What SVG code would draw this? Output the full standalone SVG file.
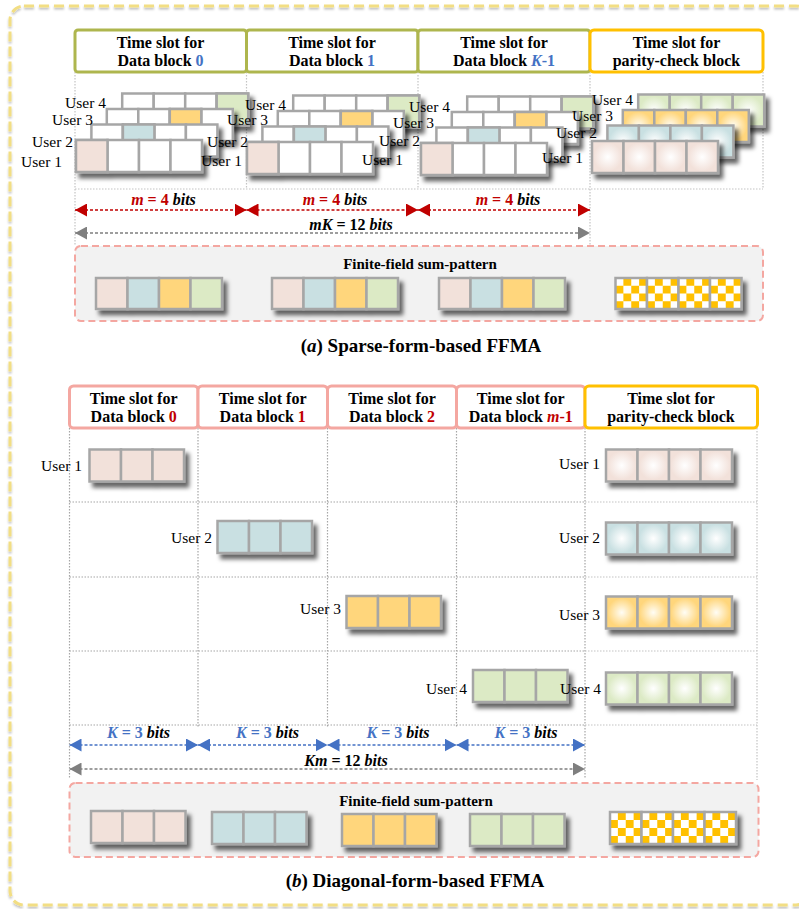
<svg xmlns="http://www.w3.org/2000/svg" width="799" height="909" viewBox="0 0 799 909" font-family="'Liberation Serif', 'Times New Roman', serif">
<defs>
<style>
text{font-family:"Liberation Serif","Times New Roman",serif;fill:#000}
.hd{font-size:16px;font-weight:bold;text-anchor:middle}
.lb{font-size:15.5px;text-anchor:end}
.ar{font-size:16px;font-weight:bold;text-anchor:middle;font-style:italic}
.sum{font-size:15px;font-weight:bold;text-anchor:middle}
.cap{font-size:19px;font-weight:bold;text-anchor:middle}
.bl{fill:#4472C4}
.rd{fill:#C00000}
.it{font-style:italic}
.up{font-style:normal}
.c{stroke:#A6A6A6;stroke-width:2.5}
.w{fill:#fff}
.pk{fill:#F2E1DA}
.bu{fill:#C9E0E2}
.ye{fill:#FFD67C}
.gn{fill:#DCEAC5}
.ck{fill:url(#chk)}
.rpk{fill:url(#gpk)}
.rbu{fill:url(#gbu)}
.rye{fill:url(#gye)}
.rgn{fill:url(#ggn)}
.hA{fill:#fff;stroke:#AEB64E;stroke-width:3}
.hB{fill:#fff;stroke:#F4A7A1;stroke-width:3}
.hP{fill:#fff;stroke:#FFC000;stroke-width:3}
.gd{stroke:#A6A6A6;stroke-width:1.2;stroke-dasharray:1.5 1.5;fill:none}
.gl{stroke:#C4C4C4;stroke-width:1.2;stroke-dasharray:1.5 1.5;fill:none}
.box{fill:#F2F2F2;stroke:#F4A7A1;stroke-width:2;stroke-dasharray:7 4}
.ra{stroke:#C00000;stroke-width:1.3;stroke-dasharray:3 2;marker-start:url(#mr);marker-end:url(#mr)}
.ba{stroke:#4472C4;stroke-width:1.3;stroke-dasharray:3 2;marker-start:url(#mb);marker-end:url(#mb)}
.ga{stroke:#7F7F7F;stroke-width:1.3;stroke-dasharray:3 2;marker-start:url(#mg);marker-end:url(#mg)}
.frame{fill:none;stroke:#F2DE84;stroke-width:3;stroke-dasharray:10 5}
</style>
<filter id="sh" x="-20%" y="-30%" width="150%" height="180%">
<feDropShadow dx="4" dy="5" stdDeviation="2.2" flood-color="#000" flood-opacity="0.6"/>
</filter>
<filter id="fsh" x="-5%" y="-5%" width="110%" height="110%">
<feDropShadow dx="0" dy="2" stdDeviation="1.2" flood-color="#000" flood-opacity="0.25"/>
</filter>
<marker id="mr" viewBox="0 0 12 13" refX="12" refY="6.5" markerWidth="12" markerHeight="13" markerUnits="userSpaceOnUse" orient="auto-start-reverse"><path d="M0,0 L12,6.5 L0,13 z" fill="#C00000"/></marker>
<marker id="mb" viewBox="0 0 12 13" refX="12" refY="6.5" markerWidth="12" markerHeight="13" markerUnits="userSpaceOnUse" orient="auto-start-reverse"><path d="M0,0 L12,6.5 L0,13 z" fill="#4472C4"/></marker>
<marker id="mg" viewBox="0 0 12 13" refX="12" refY="6.5" markerWidth="12" markerHeight="13" markerUnits="userSpaceOnUse" orient="auto-start-reverse"><path d="M0,0 L12,6.5 L0,13 z" fill="#7F7F7F"/></marker>
<radialGradient id="gpk"><stop offset="0" stop-color="#FFFFFF"/><stop offset="0.9" stop-color="#F2E1DA"/></radialGradient>
<radialGradient id="gbu"><stop offset="0" stop-color="#FFFFFF"/><stop offset="0.9" stop-color="#C9E0E2"/></radialGradient>
<radialGradient id="gye"><stop offset="0" stop-color="#FFFDF5"/><stop offset="0.9" stop-color="#FFD67C"/></radialGradient>
<radialGradient id="ggn"><stop offset="0" stop-color="#FFFFFF"/><stop offset="0.9" stop-color="#DCEAC5"/></radialGradient>
<pattern id="chk" patternUnits="objectBoundingBox" width="0.5" height="0.5" patternContentUnits="objectBoundingBox"><rect width="0.5" height="0.5" fill="#fff"/><rect x="0.25" y="0" width="0.25" height="0.25" fill="#FFC000"/><rect x="0" y="0.25" width="0.25" height="0.25" fill="#FFC000"/></pattern>
<g id="r4"><rect class="c w" x="0" y="0" width="31.5" height="32"/><rect class="c w" x="31.5" y="0" width="31.5" height="32"/><rect class="c w" x="63" y="0" width="31.5" height="32"/><rect class="c w" x="94.5" y="0" width="31.5" height="32"/></g>
</defs>

<rect class="frame" x="10" y="6" width="800" height="899" rx="14" filter="url(#fsh)"/>

<!-- ===== Part (a) ===== -->
<g id="grid-a">
<path class="gl" d="M75,72V189 M246.5,72V189 M418,72V189 M590,72V189 M763,72V189 M75,189H763 M75,189V246 M590,189V246"/>
</g>

<g id="a-header-0"><rect class="hA" x="75" y="30" width="171.5" height="42" rx="3"/><text class="hd" x="160.5" y="48">Time slot for</text><text class="hd" x="160.5" y="66">Data block <tspan class="bl">0</tspan></text></g>
<g id="a-header-1"><rect class="hA" x="246.5" y="30" width="171.5" height="42" rx="3"/><text class="hd" x="332" y="48">Time slot for</text><text class="hd" x="332" y="66">Data block <tspan class="bl">1</tspan></text></g>
<g id="a-header-K1"><rect class="hA" x="418" y="30" width="172" height="42" rx="3"/><text class="hd" x="504" y="48">Time slot for</text><text class="hd" x="504" y="66">Data block <tspan class="bl it">K</tspan><tspan class="bl">-1</tspan></text></g>
<g id="a-header-parity"><rect class="hP" x="590" y="30" width="173" height="42" rx="4"/><text class="hd" x="676.5" y="48">Time slot for</text><text class="hd" x="676.5" y="66">parity-check block</text></g>

<g id="a-col0">
<g filter="url(#sh)" transform="translate(122.2,93.5)"><use href="#r4"/><rect class="c gn" x="94.5" y="0" width="31.5" height="32"/></g>
<g filter="url(#sh)" transform="translate(106.8,109)"><use href="#r4"/><rect class="c ye" x="63" y="0" width="31.5" height="32"/></g>
<g filter="url(#sh)" transform="translate(91.4,124.5)"><use href="#r4"/><rect class="c bu" x="31.5" y="0" width="31.5" height="32"/></g>
<g filter="url(#sh)" transform="translate(76,140)"><use href="#r4"/><rect class="c pk" x="0" y="0" width="31.5" height="32"/></g>
</g>
<g id="a-col1">
<g filter="url(#sh)" transform="translate(293.2,95.5)"><use href="#r4"/><rect class="c gn" x="94.5" y="0" width="31.5" height="32"/></g>
<g filter="url(#sh)" transform="translate(277.8,111)"><use href="#r4"/><rect class="c ye" x="63" y="0" width="31.5" height="32"/></g>
<g filter="url(#sh)" transform="translate(262.4,126.5)"><use href="#r4"/><rect class="c bu" x="31.5" y="0" width="31.5" height="32"/></g>
<g filter="url(#sh)" transform="translate(247,142)"><use href="#r4"/><rect class="c pk" x="0" y="0" width="31.5" height="32"/></g>
</g>
<g id="a-colK1">
<g filter="url(#sh)" transform="translate(467.2,96.5)"><use href="#r4"/><rect class="c gn" x="94.5" y="0" width="31.5" height="32"/></g>
<g filter="url(#sh)" transform="translate(451.8,112)"><use href="#r4"/><rect class="c ye" x="63" y="0" width="31.5" height="32"/></g>
<g filter="url(#sh)" transform="translate(436.4,127.5)"><use href="#r4"/><rect class="c bu" x="31.5" y="0" width="31.5" height="32"/></g>
<g filter="url(#sh)" transform="translate(421,143)"><use href="#r4"/><rect class="c pk" x="0" y="0" width="31.5" height="32"/></g>
</g>
<g id="a-colParity">
<g filter="url(#sh)" transform="translate(638.2,94.5)"><rect class="c rgn" x="0" y="0" width="31.5" height="32"/><rect class="c rgn" x="31.5" y="0" width="31.5" height="32"/><rect class="c rgn" x="63" y="0" width="31.5" height="32"/><rect class="c rgn" x="94.5" y="0" width="31.5" height="32"/></g>
<g filter="url(#sh)" transform="translate(622.8,110)"><rect class="c rye" x="0" y="0" width="31.5" height="32"/><rect class="c rye" x="31.5" y="0" width="31.5" height="32"/><rect class="c rye" x="63" y="0" width="31.5" height="32"/><rect class="c rye" x="94.5" y="0" width="31.5" height="32"/></g>
<g filter="url(#sh)" transform="translate(607.4,125.5)"><rect class="c rbu" x="0" y="0" width="31.5" height="32"/><rect class="c rbu" x="31.5" y="0" width="31.5" height="32"/><rect class="c rbu" x="63" y="0" width="31.5" height="32"/><rect class="c rbu" x="94.5" y="0" width="31.5" height="32"/></g>
<g filter="url(#sh)" transform="translate(592,141)"><rect class="c rpk" x="0" y="0" width="31.5" height="32"/><rect class="c rpk" x="31.5" y="0" width="31.5" height="32"/><rect class="c rpk" x="63" y="0" width="31.5" height="32"/><rect class="c rpk" x="94.5" y="0" width="31.5" height="32"/></g>
</g>

<g id="a-labels">
<text class="lb" x="106" y="108">User 4</text><text class="lb" x="93" y="125">User 3</text><text class="lb" x="73" y="147">User 2</text><text class="lb" x="62" y="167">User 1</text>
<text class="lb" x="286" y="110">User 4</text><text class="lb" x="268" y="125">User 3</text><text class="lb" x="248" y="147">User 2</text><text class="lb" x="242" y="166">User 1</text>
<text class="lb" x="450" y="112">User 4</text><text class="lb" x="434" y="128">User 3</text><text class="lb" x="420" y="146">User 2</text><text class="lb" x="403" y="165">User 1</text>
<text class="lb" x="633" y="105">User 4</text><text class="lb" x="613" y="121">User 3</text><text class="lb" x="597" y="138">User 2</text><text class="lb" x="583" y="163">User 1</text>
</g>

<g id="a-connectors">
<line class="ra" x1="75" y1="210" x2="246.5" y2="210"/>
<line class="ra" x1="246.5" y1="210" x2="418" y2="210"/>
<line class="ra" x1="418" y1="210" x2="590" y2="210"/>
<line class="ga" x1="75" y1="233" x2="590" y2="233"/>
</g>
<g id="a-dim-labels">
<text class="ar" x="163.5" y="205"><tspan class="rd">m</tspan><tspan class="rd up"> = 4</tspan> bits</text>
<text class="ar" x="335" y="205"><tspan class="rd">m</tspan><tspan class="rd up"> = 4</tspan> bits</text>
<text class="ar" x="508" y="205"><tspan class="rd">m</tspan><tspan class="rd up"> = 4</tspan> bits</text>
<text class="ar" x="351" y="230">mK<tspan class="up"> = 12 </tspan>bits</text>
</g>

<g id="a-sum-pattern">
<rect class="box" x="75" y="246" width="688" height="75" rx="6"/>
<text class="sum" x="420" y="269">Finite-field sum-pattern</text>
<g filter="url(#sh)" transform="translate(96,278)"><rect class="c pk" x="0" y="0" width="31.5" height="31"/><rect class="c bu" x="31.5" y="0" width="31.5" height="31"/><rect class="c ye" x="63" y="0" width="31.5" height="31"/><rect class="c gn" x="94.5" y="0" width="31.5" height="31"/></g>
<g filter="url(#sh)" transform="translate(272,278)"><rect class="c pk" x="0" y="0" width="31.5" height="31"/><rect class="c bu" x="31.5" y="0" width="31.5" height="31"/><rect class="c ye" x="63" y="0" width="31.5" height="31"/><rect class="c gn" x="94.5" y="0" width="31.5" height="31"/></g>
<g filter="url(#sh)" transform="translate(439,278)"><rect class="c pk" x="0" y="0" width="31.5" height="31"/><rect class="c bu" x="31.5" y="0" width="31.5" height="31"/><rect class="c ye" x="63" y="0" width="31.5" height="31"/><rect class="c gn" x="94.5" y="0" width="31.5" height="31"/></g>
<g filter="url(#sh)" transform="translate(615.5,278)"><rect class="c ck" x="0" y="0" width="31.5" height="31"/><rect class="c ck" x="31.5" y="0" width="31.5" height="31"/><rect class="c ck" x="63" y="0" width="31.5" height="31"/><rect class="c ck" x="94.5" y="0" width="31.5" height="31"/></g>
</g>
<text class="cap" x="421" y="352">(<tspan class="it">a</tspan>) Sparse-form-based FFMA</text>

<!-- ===== Part (b) ===== -->
<g id="grid-b">
<path class="gd" d="M69.5,428V778 M198,428V727 M327.5,428V727 M456.5,428V727 M585,428V778 M69.5,502H585 M69.5,577H585 M69.5,651H585 M69.5,725H585"/>
<path class="gl" d="M757,428V780 M585,502H757 M585,577H757 M585,651H757 M585,725H757"/>
</g>

<g id="b-header-0"><rect class="hB" x="69.5" y="386" width="128.5" height="42" rx="4"/><text class="hd" x="133.7" y="404">Time slot for</text><text class="hd" x="133.7" y="422">Data block <tspan class="rd">0</tspan></text></g>
<g id="b-header-1"><rect class="hB" x="198" y="386" width="129.5" height="42" rx="4"/><text class="hd" x="262.7" y="404">Time slot for</text><text class="hd" x="262.7" y="422">Data block <tspan class="rd">1</tspan></text></g>
<g id="b-header-2"><rect class="hB" x="327.5" y="386" width="129" height="42" rx="4"/><text class="hd" x="392" y="404">Time slot for</text><text class="hd" x="392" y="422">Data block <tspan class="rd">2</tspan></text></g>
<g id="b-header-m1"><rect class="hB" x="456.5" y="386" width="128.5" height="42" rx="4"/><text class="hd" x="520.7" y="404">Time slot for</text><text class="hd" x="520.7" y="422">Data block <tspan class="rd it">m</tspan><tspan class="rd">-1</tspan></text></g>
<g id="b-header-parity"><rect class="hP" x="585" y="386" width="172.5" height="42" rx="4"/><text class="hd" x="671" y="404">Time slot for</text><text class="hd" x="671" y="422">parity-check block</text></g>

<g id="b-user1"><g filter="url(#sh)" transform="translate(89.5,449.5)"><rect class="c pk" x="0" y="0" width="31.5" height="32"/><rect class="c pk" x="31.5" y="0" width="31.5" height="32"/><rect class="c pk" x="63" y="0" width="31.5" height="32"/></g></g>
<g id="b-user2"><g filter="url(#sh)" transform="translate(217.5,521)"><rect class="c bu" x="0" y="0" width="31.5" height="32"/><rect class="c bu" x="31.5" y="0" width="31.5" height="32"/><rect class="c bu" x="63" y="0" width="31.5" height="32"/></g></g>
<g id="b-user3"><g filter="url(#sh)" transform="translate(346.5,596)"><rect class="c ye" x="0" y="0" width="31.5" height="32"/><rect class="c ye" x="31.5" y="0" width="31.5" height="32"/><rect class="c ye" x="63" y="0" width="31.5" height="32"/></g></g>
<g id="b-user4"><g filter="url(#sh)" transform="translate(473,670)"><rect class="c gn" x="0" y="0" width="31.5" height="32"/><rect class="c gn" x="31.5" y="0" width="31.5" height="32"/><rect class="c gn" x="63" y="0" width="31.5" height="32"/></g></g>

<g id="b-parity">
<g filter="url(#sh)" transform="translate(606,449.5)"><rect class="c rpk" x="0" y="0" width="31.5" height="32"/><rect class="c rpk" x="31.5" y="0" width="31.5" height="32"/><rect class="c rpk" x="63" y="0" width="31.5" height="32"/><rect class="c rpk" x="94.5" y="0" width="31.5" height="32"/></g>
<g filter="url(#sh)" transform="translate(606,522.5)"><rect class="c rbu" x="0" y="0" width="31.5" height="32"/><rect class="c rbu" x="31.5" y="0" width="31.5" height="32"/><rect class="c rbu" x="63" y="0" width="31.5" height="32"/><rect class="c rbu" x="94.5" y="0" width="31.5" height="32"/></g>
<g filter="url(#sh)" transform="translate(606,596.5)"><rect class="c rye" x="0" y="0" width="31.5" height="32"/><rect class="c rye" x="31.5" y="0" width="31.5" height="32"/><rect class="c rye" x="63" y="0" width="31.5" height="32"/><rect class="c rye" x="94.5" y="0" width="31.5" height="32"/></g>
<g filter="url(#sh)" transform="translate(606,672.5)"><rect class="c rgn" x="0" y="0" width="31.5" height="32"/><rect class="c rgn" x="31.5" y="0" width="31.5" height="32"/><rect class="c rgn" x="63" y="0" width="31.5" height="32"/><rect class="c rgn" x="94.5" y="0" width="31.5" height="32"/></g>
</g>

<g id="b-labels">
<text class="lb" x="82" y="471">User 1</text>
<text class="lb" x="212" y="543">User 2</text>
<text class="lb" x="341" y="614">User 3</text>
<text class="lb" x="467" y="694">User 4</text>
<text class="lb" x="600" y="469">User 1</text>
<text class="lb" x="600" y="543">User 2</text>
<text class="lb" x="600" y="620">User 3</text>
<text class="lb" x="601" y="694">User 4</text>
</g>

<g id="b-connectors">
<line class="ba" x1="69.5" y1="745" x2="198" y2="745"/>
<line class="ba" x1="198" y1="745" x2="327.5" y2="745"/>
<line class="ba" x1="327.5" y1="745" x2="456.5" y2="745"/>
<line class="ba" x1="456.5" y1="745" x2="585" y2="745"/>
<line class="ga" x1="69.5" y1="769" x2="585" y2="769"/>
</g>
<g id="b-dim-labels">
<text class="ar" x="138.5" y="738"><tspan class="bl">K</tspan><tspan class="bl up"> = 3</tspan> bits</text>
<text class="ar" x="267.5" y="738"><tspan class="bl">K</tspan><tspan class="bl up"> = 3</tspan> bits</text>
<text class="ar" x="398" y="738"><tspan class="bl">K</tspan><tspan class="bl up"> = 3</tspan> bits</text>
<text class="ar" x="526" y="738"><tspan class="bl">K</tspan><tspan class="bl up"> = 3</tspan> bits</text>
<text class="ar" x="346" y="766">Km<tspan class="up"> = 12 </tspan>bits</text>
</g>

<g id="b-sum-pattern">
<rect class="box" x="69.5" y="783" width="689" height="74" rx="6"/>
<text class="sum" x="416" y="806">Finite-field sum-pattern</text>
<g filter="url(#sh)" transform="translate(91,811)"><rect class="c pk" x="0" y="0" width="31.5" height="32"/><rect class="c pk" x="31.5" y="0" width="31.5" height="32"/><rect class="c pk" x="63" y="0" width="31.5" height="32"/></g>
<g filter="url(#sh)" transform="translate(212,812)"><rect class="c bu" x="0" y="0" width="31.5" height="32"/><rect class="c bu" x="31.5" y="0" width="31.5" height="32"/><rect class="c bu" x="63" y="0" width="31.5" height="32"/></g>
<g filter="url(#sh)" transform="translate(342,814)"><rect class="c ye" x="0" y="0" width="31.5" height="32"/><rect class="c ye" x="31.5" y="0" width="31.5" height="32"/><rect class="c ye" x="63" y="0" width="31.5" height="32"/></g>
<g filter="url(#sh)" transform="translate(470,814)"><rect class="c gn" x="0" y="0" width="31.5" height="32"/><rect class="c gn" x="31.5" y="0" width="31.5" height="32"/><rect class="c gn" x="63" y="0" width="31.5" height="32"/></g>
<g filter="url(#sh)" transform="translate(610,812)"><rect class="c ck" x="0" y="0" width="31.5" height="32"/><rect class="c ck" x="31.5" y="0" width="31.5" height="32"/><rect class="c ck" x="63" y="0" width="31.5" height="32"/><rect class="c ck" x="94.5" y="0" width="31.5" height="32"/></g>
</g>
<text class="cap" x="415" y="887">(<tspan class="it">b</tspan>) Diagonal-form-based FFMA</text>
</svg>
